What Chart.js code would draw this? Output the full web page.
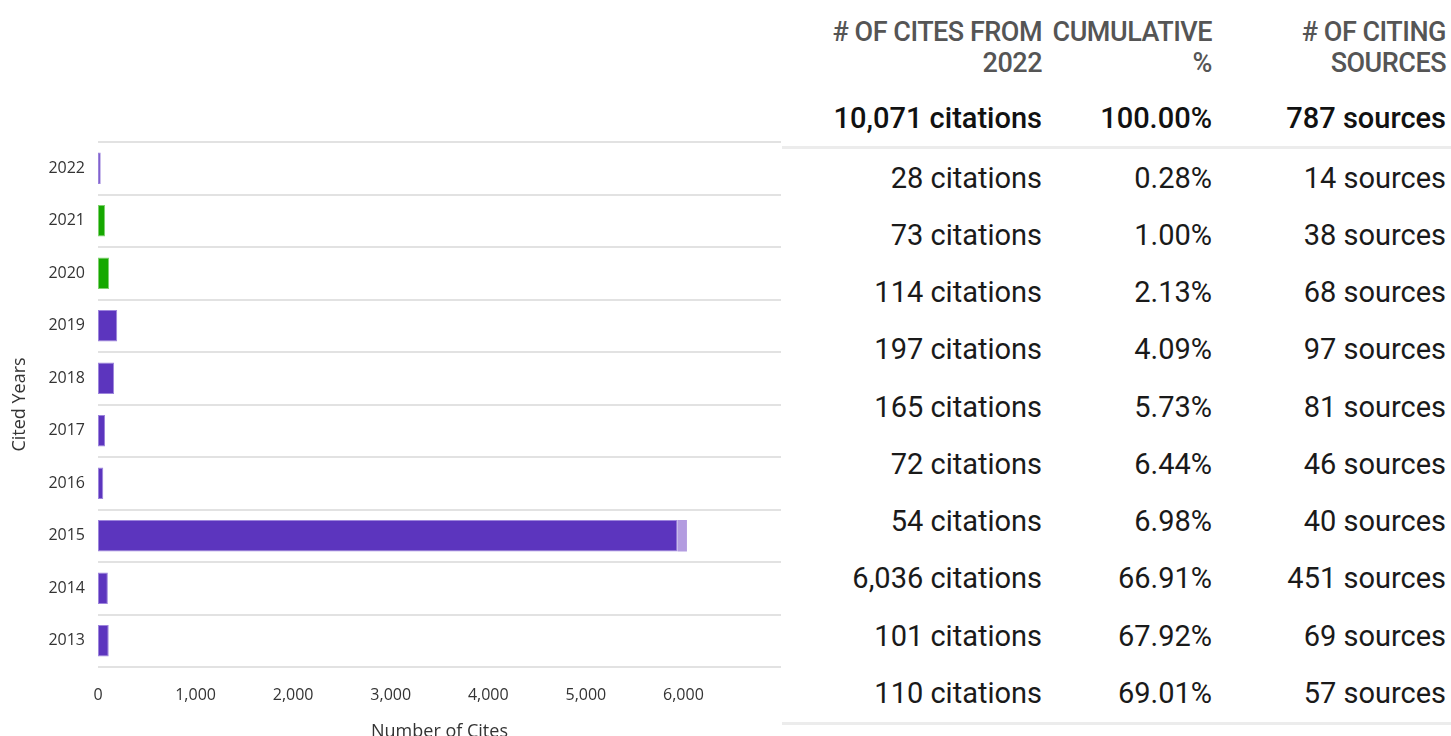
<!DOCTYPE html>
<html>
<head>
<meta charset="utf-8">
<script src="https://cdn.jsdelivr.net/npm/chart.js@4"></script>
<style>
  body { margin: 0; width: 1451px; height: 736px; overflow: hidden; background: #fff; font-family: Roboto, sans-serif; }
  #chartBox { position: absolute; left: 0; top: 0; width: 782px; height: 750px; }
  #tabla { position: absolute; left: 782px; top: 0; width: 669px; }
  .fila { display: grid; grid-template-columns: 260px 170px 234px; align-items: center; text-align: right; }
  .cap { color: #555; font-size: 27px; font-weight: 500; letter-spacing: -0.5px; line-height: 31px; padding-top: 6px; height: 83px; }
  .total { color: #111; font-size: 29px; font-weight: 500; height: 57px; }
  .dato { color: #1a1a1a; font-size: 29px; height: 57.25px; }
  .linea { height: 3px; background: #ececec; }
</style>
</head>
<body>
<div id="chartBox"><canvas id="myChart"></canvas></div>
<div id="tabla"></div>
<script>
//DADES
let anys = ["2022","2021","2020","2019","2018","2017","2016","2015","2014","2013"];
let cites = [28,73,114,197,165,72,54,6036,101,110];
let autoCites = [0,0,0,0,0,0,0,96,0,0];
let acumulat = ["0.28%","1.00%","2.13%","4.09%","5.73%","6.44%","6.98%","66.91%","67.92%","69.01%"];
let fonts = [14,38,68,97,81,46,40,451,69,57];
let totalCites = 10071;
let totalPercent = "100.00%";
let totalFonts = 787;
let anysJIF = ["2021","2020"];
let xTicks = [0,1000,2000,3000,4000,5000,6000];

//Colors
const lila = "#5c35be";
const verd = "#16a800";
const lilaClar = "#b39ce0";
let colorsBarra = anys.map(a => anysJIF.includes(a) ? verd : lila);
let vora = anys.map(a => anysJIF.includes(a) ? "#7fd16f" : "#9d85dc");

const fmt = n => n.toLocaleString("en-US");

//GRAFICA
const config = {
  type: 'bar',
  data: {
    labels: anys,
    datasets: [{
      label: 'Cites',
      data: cites.map((c, i) => c - autoCites[i]),
      backgroundColor: colorsBarra,
      borderColor: vora,
      borderWidth: 1,
      borderSkipped: false
    },
    {
      label: 'Self cites',
      data: autoCites,
      backgroundColor: lilaClar,
      borderWidth: 0
    }]
  },
  options: {
    indexAxis: 'y',
    responsive: true,
    maintainAspectRatio: false,
    animation: false,
    layout: { padding: { top: 142, right: 1, left: 0, bottom: 0 } },
    datasets: { bar: { categoryPercentage: 0.6, barPercentage: 1 } },
    plugins: { legend: { display: false }, tooltip: { enabled: false } },
    scales: {
      x: {
        stacked: true,
        min: 0,
        max: 7000,
        afterBuildTicks: (axis) => { axis.ticks = xTicks.map(v => ({ value: v })); },
        afterFit: (axis) => { axis.height = 83; },
        grid: { display: false },
        border: { display: false },
        ticks: {
          padding: 11,
          color: '#333',
          font: { family: 'Open Sans', size: 16 },
          callback: (v) => fmt(v)
        },
        title: {
          display: true,
          text: 'Number of Cites',
          color: '#333',
          font: { family: 'Open Sans', size: 18 },
          padding: { top: 4, bottom: 7 }
        }
      },
      y: {
        stacked: true,
        afterFit: (axis) => { axis.width = 98; },
        border: { display: false },
        grid: { color: '#e2e2e2', lineWidth: 2, drawTicks: false, offset: true },
        ticks: {
          padding: 13,
          color: '#333',
          font: { family: 'Open Sans', size: 16 }
        },
        title: {
          display: true,
          text: 'Cited Years',
          color: '#333',
          font: { family: 'Open Sans', size: 18 },
          padding: { top: 9, bottom: 4 }
        }
      }
    }
  }
};

const ctx = document.getElementById('myChart').getContext('2d');
const myChart = new Chart(ctx, config);

//TAULA
function printTaula() {
  let html = '<div class="fila cap"><div># OF CITES FROM<br>2022</div><div>CUMULATIVE<br>%</div><div># OF CITING<br>SOURCES</div></div>';
  html += `<div class="fila total"><div>${fmt(totalCites)} citations</div><div>${totalPercent}</div><div>${totalFonts} sources</div></div>`;
  html += '<div class="linea"></div>';
  anys.forEach((a, i) => {
    html += `<div class="fila dato"><div>${fmt(cites[i])} citations</div><div>${acumulat[i]}</div><div>${fonts[i]} sources</div></div>`;
  });
  html += '<div class="linea"></div>';
  document.getElementById("tabla").innerHTML = html;
}
printTaula();
</script>
</body>
</html>
